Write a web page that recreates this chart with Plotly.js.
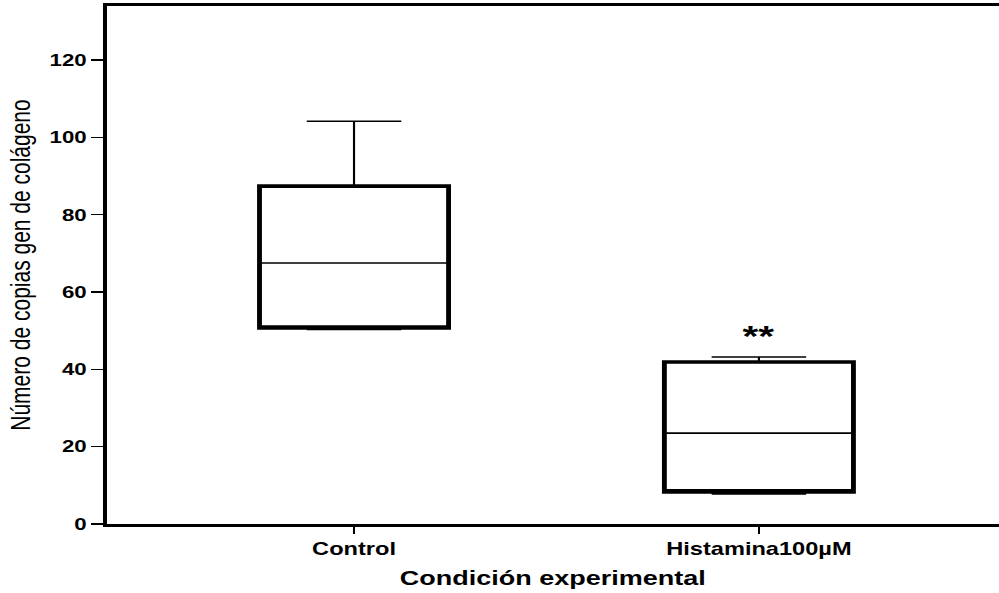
<!DOCTYPE html>
<html>
<head>
<meta charset="utf-8">
<script src="https://cdn.plot.ly/plotly-3.0.1.min.js"></script>
<style>
  html, body { margin: 0; padding: 0; background: #fff; overflow: hidden; }
  /* the figure is laid out narrow and widened horizontally */
  #chart { width: 740px; height: 593px; transform: scaleX(1.35); transform-origin: 0 0; }
</style>
</head>
<body>
<div id="chart"></div>
<script>
// Copies of the collagen gene per experimental condition (box summary values)
const groups = ['Control', 'Histamina100µM'];
const lowerFence = [50.3, 7.8];
const q1 = [50.7, 8.3];
const median = [67.5, 23.5];
const q3 = [87.4, 41.9];
const upperFence = [104.2, 43.2];

// significance marks above each group
const sigText = ['', '**'];
const sigY = [null, 48.8];

const FONT = 'Liberation Sans, Arial, Helvetica, sans-serif';

// thin lines: whiskers, caps and median
const whiskers = {
  type: 'box',
  x: groups,
  q1: q1,
  median: median,
  q3: q3,
  lowerfence: lowerFence,
  upperfence: upperFence,
  width: 0.467,
  whiskerwidth: 0.5,
  boxpoints: false,
  fillcolor: '#ffffff',
  line: { color: '#000000', width: 1.6 },
  hoverinfo: 'skip',
  showlegend: false
};

// heavy outline of the interquartile box
const outline = {
  type: 'box',
  x: groups,
  q1: q1,
  median: q1,
  q3: q3,
  lowerfence: q1,
  upperfence: q3,
  width: 0.467,
  whiskerwidth: 0,
  boxpoints: false,
  fillcolor: 'rgba(0,0,0,0)',
  line: { color: '#000000', width: 3.6 },
  hoverinfo: 'skip',
  showlegend: false
};

const annotations = [];
groups.forEach((g, i) => {
  if (sigText[i]) {
    annotations.push({
      x: g, y: sigY[i], xref: 'x', yref: 'y',
      text: '<b>' + sigText[i] + '</b>',
      showarrow: false, yanchor: 'middle',
      font: { family: FONT, size: 30, color: '#000000' }
    });
  }
});

const layout = {
  width: 740,
  height: 593,
  margin: { l: 79, r: 0, t: 6, b: 69 },
  paper_bgcolor: '#ffffff',
  plot_bgcolor: '#ffffff',
  boxmode: 'overlay',
  showlegend: false,
  font: { family: FONT, color: '#000000' },
  xaxis: {
    type: 'category',
    range: [-0.611, 1.593],
    showgrid: false,
    zeroline: false,
    showline: true,
    mirror: true,
    linecolor: '#000000',
    linewidth: 2.6,
    ticks: 'outside',
    ticklen: 7,
    tickwidth: 1.3,
    tickcolor: '#000000',
    tickfont: { family: FONT, size: 17.5, weight: 'bold', color: '#000000' },
    title: {
      text: 'Condición experimental',
      font: { family: FONT, size: 20, weight: 'bold', color: '#000000' },
      standoff: 14
    }
  },
  yaxis: {
    range: [0, 134],
    tickvals: [0, 20, 40, 60, 80, 100, 120],
    showgrid: false,
    zeroline: false,
    showline: true,
    linecolor: '#000000',
    linewidth: 2.5,
    ticks: 'outside',
    ticklen: 9,
    tickwidth: 1.3,
    tickcolor: '#000000',
    tickfont: { family: FONT, size: 16.5, weight: 'bold', color: '#000000' },
    title: {
      text: 'Número de copias gen de colágeno',
      font: { family: FONT, size: 21, color: '#000000' },
      standoff: 8
    }
  },
  annotations: annotations
};

Plotly.newPlot('chart', [whiskers, outline], layout, { displayModeBar: false, staticPlot: true });
</script>
</body>
</html>
